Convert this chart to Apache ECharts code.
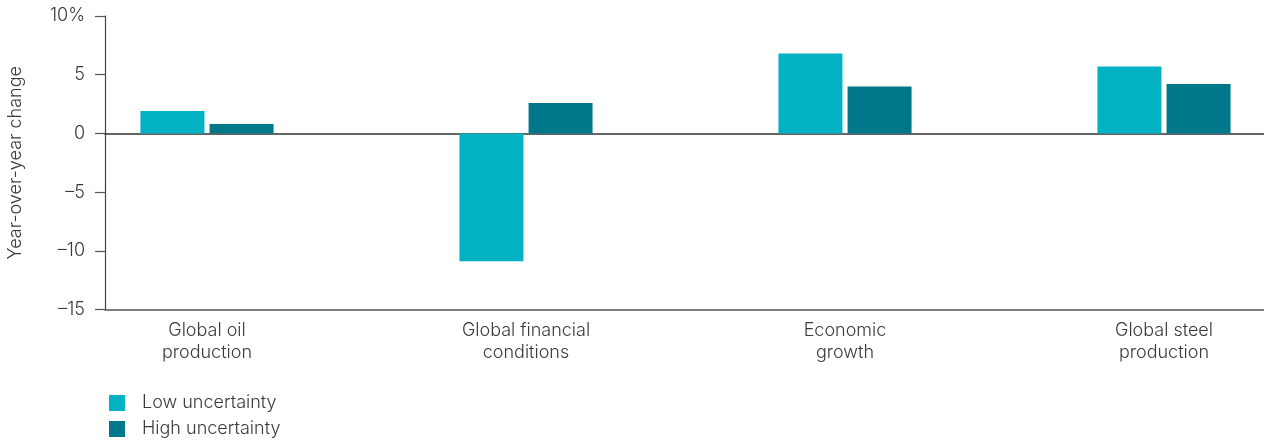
<!DOCTYPE html>
<html>
<head>
<meta charset="utf-8">
<script src="https://cdn.jsdelivr.net/npm/echarts@6/dist/echarts.min.js"></script>
<style>
html,body{margin:0;padding:0;background:#fff;}
#chart{width:1264px;height:441px;}
</style>
</head>
<body>
<div id="chart"></div>
<script>
const categories = ['Global oil\nproduction', 'Global financial\nconditions', 'Economic\ngrowth', 'Global steel\nproduction'];
const lowUncertainty = [1.9, -10.9, 6.8, 5.7];
const highUncertainty = [0.8, 2.6, 4.0, 4.2];
const yTickValues = [-15, -10, -5, 0, 5, 10];
const yTickLabels = ['\u201315', '\u201310', '\u20135', '0', '5', '10%'];
const seriesNames = ['Low uncertainty', 'High uncertainty'];

const FONT = 'Inter';
const FW = 300;
const FS = 18;
const TXT = '#3a3a3a';
const chart = echarts.init(document.getElementById('chart'));
chart.setOption({
  animation: false,
  color: ['#02b1c2', '#00788a'],
  legend: {
    orient: 'vertical', left: 109, top: 394, padding: 0,
    itemWidth: 16, itemHeight: 16, itemGap: 8,
    icon: 'rect',
    data: seriesNames,
    textStyle: { fontFamily: FONT, fontWeight: FW, fontSize: FS, color: TXT, padding: [0, 0, 0, 12] }
  },
  grid: [
    { left: 47.5, width: 1276, top: 16, bottom: 131.5, containLabel: false, outerBoundsMode: 'none' },
    { left: 105, right: 0, top: 16, bottom: 131.5, containLabel: false, outerBoundsMode: 'none' }
  ],
  xAxis: [
    {
      gridIndex: 0, type: 'category', data: categories,
      axisLine: { show: false }, axisTick: { show: false },
      axisLabel: { margin: 10, fontFamily: FONT, fontWeight: FW, fontSize: FS, color: TXT, lineHeight: 22, interval: 0 }
    },
    {
      gridIndex: 1, type: 'value', min: 0, max: 1, position: 'bottom',
      axisLine: { show: true, onZero: false, lineStyle: { color: '#555', width: 1.5 } },
      axisTick: { show: false }, axisLabel: { show: false }, splitLine: { show: false }
    },
    {
      gridIndex: 1, type: 'value', min: 0, max: 1, position: 'top',
      axisLine: { show: true, onZero: true, lineStyle: { color: '#333', width: 1.5 } },
      axisTick: { show: false }, axisLabel: { show: false }, splitLine: { show: false }
    }
  ],
  yAxis: [
    { gridIndex: 0, type: 'value', min: -15, max: 10, interval: 5, show: false },
    {
      gridIndex: 1, type: 'value', min: -15, max: 10, interval: 5,
      name: 'Year-over-year change', nameLocation: 'middle', nameGap: 80,
      nameTextStyle: { fontFamily: FONT, fontWeight: FW, fontSize: FS, color: TXT },
      axisLine: { show: true, lineStyle: { color: '#444', width: 1.2 } },
      axisTick: { show: true, length: 10, lineStyle: { color: '#555', width: 1.2 } },
      splitLine: { show: false },
      axisLabel: {
        margin: 20, fontFamily: FONT, fontWeight: FW, fontSize: FS, color: TXT,
        formatter: function (v) { const i = yTickValues.indexOf(v); return i >= 0 ? yTickLabels[i] : ''; }
      }
    }
  ],
  series: [
    { name: seriesNames[0], type: 'bar', xAxisIndex: 0, yAxisIndex: 0, data: lowUncertainty, barWidth: 64, barGap: '8%' },
    { name: seriesNames[1], type: 'bar', xAxisIndex: 0, yAxisIndex: 0, data: highUncertainty, barWidth: 64, barGap: '8%' }
  ]
});
</script>
</body>
</html>
